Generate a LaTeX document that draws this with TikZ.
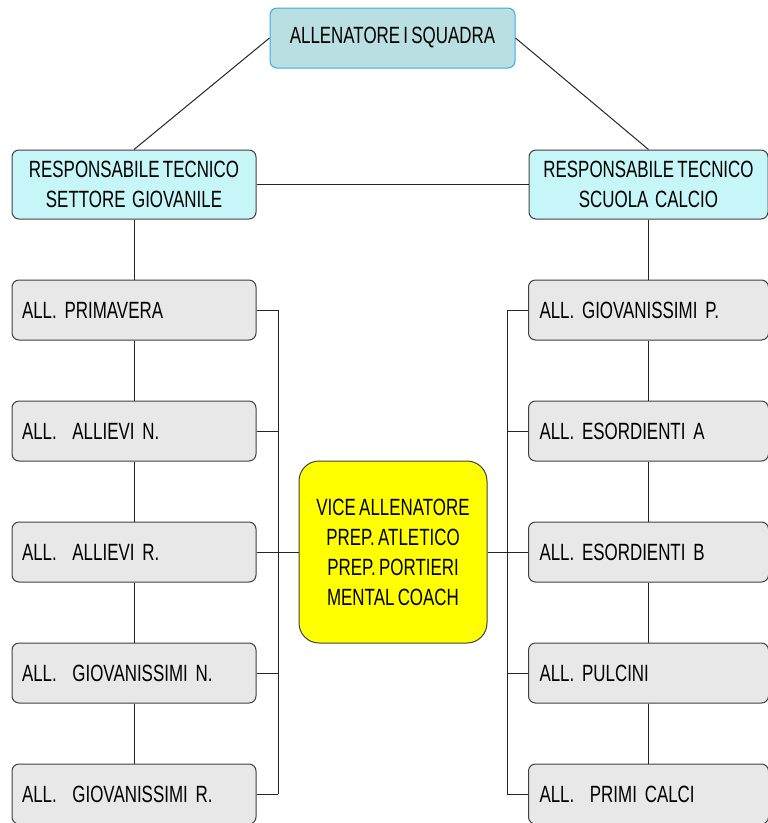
\documentclass[tikz,border=0pt]{standalone}
\usepackage{fontspec}
\setmainfont{Liberation Sans}[FakeStretch=0.72, WordSpace=0.7]
\definecolor{capofill}{RGB}{185,223,226}
\definecolor{capoline}{RGB}{59,169,234}
\definecolor{respfill}{RGB}{198,246,248}
\definecolor{allfill}{RGB}{232,232,232}
\definecolor{vicefill}{RGB}{255,255,0}
\tikzset{
	box/.style={rounded corners=7pt, line width=1pt, draw=black!75, inner sep=0pt, font=\fontsize{23.5}{30}\selectfont},
	capo/.style={box, draw=capoline, fill=capofill, minimum width=245pt, minimum height=60pt},
	resp/.style={box, fill=respfill, align=center, minimum height=69pt},
	allbox/.style={box, fill=allfill, align=left, minimum height=60pt, inner xsep=10pt},
	vice/.style={box, rounded corners=20pt, fill=vicefill, align=center, minimum width=188pt, minimum height=182pt},
	conn/.style={line width=1pt, draw=black!85}
}
\begin{document}
\begin{tikzpicture}[x=1pt, y=-1pt]
			%%%%% START %%%%%
			\useasboundingbox (0, 0) rectangle (768, 823);
			
			\node[capo] (capo) at (392.5, 38) {ALLENATORE I SQUADRA};
			
			\node[resp, minimum width=244pt] (lrt) at (134, 184.5) {RESPONSABILE TECNICO\\SETTORE\ \ GIOVANILE};
			\node[resp, minimum width=239pt] (rrt) at (648.5, 184.5) {RESPONSABILE TECNICO\\SCUOLA\ \ CALCIO};
			
			\node[allbox, text width=224pt] (l1) at (134, 310) {ALL. PRIMAVERA};
			\node[allbox, text width=224pt] (l2) at (134, 431) {ALL.\ \ ALLIEVI N.};
			\node[allbox, text width=224pt] (l3) at (134, 552) {ALL.\ \ ALLIEVI R.};
			\node[allbox, text width=224pt] (l4) at (134, 673) {ALL.\ \ GIOVANISSIMI N.};
			\node[allbox, text width=224pt] (l5) at (134, 794) {ALL.\ \ GIOVANISSIMI R.};
			
			\node[allbox, text width=218pt, inner xsep=11pt] (r1) at (648.5, 310) {ALL. GIOVANISSIMI P.};
			\node[allbox, text width=218pt, inner xsep=11pt] (r2) at (648.5, 431) {ALL. ESORDIENTI A};
			\node[allbox, text width=218pt, inner xsep=11pt] (r3) at (648.5, 552) {ALL. ESORDIENTI B};
			\node[allbox, text width=218pt, inner xsep=11pt] (r4) at (648.5, 673) {ALL. PULCINI};
			\node[allbox, text width=218pt, inner xsep=11pt] (r5) at (648.5, 794) {ALL.\ \ PRIMI CALCI};
			
			\node[vice] (vice) at (393, 552) {VICE ALLENATORE\\PREP. ATLETICO\\PREP. PORTIERI\\MENTAL COACH};
			
			\coordinate (lbar) at (278, 0);
			\coordinate (rbar) at (507, 0);
			
			% top
			\draw[conn] (capo.west) -- (lrt.north);
			\draw[conn] (capo.east) -- (rrt.north);
			\draw[conn] (lrt.east) -- (rrt.west);
			
			% left column
			\draw[conn] (lrt.south) -- (l1.north);
			\draw[conn] (l1.south) -- (l2.north);
			\draw[conn] (l2.south) -- (l3.north);
			\draw[conn] (l3.south) -- (l4.north);
			\draw[conn] (l4.south) -- (l5.north);
			
			% right column
			\draw[conn] (rrt.south) -- (r1.north);
			\draw[conn] (r1.south) -- (r2.north);
			\draw[conn] (r2.south) -- (r3.north);
			\draw[conn] (r3.south) -- (r4.north);
			\draw[conn] (r4.south) -- (r5.north);
			
			% left bracket
			\draw[conn] (l1.east -| lbar) -- (l5.east -| lbar);
			\draw[conn] (l1.east) -- (l1.east -| lbar);
			\draw[conn] (l2.east) -- (l2.east -| lbar);
			\draw[conn] (l3.east) -- (vice.west);
			\draw[conn] (l4.east) -- (l4.east -| lbar);
			\draw[conn] (l5.east) -- (l5.east -| lbar);
			
			% right bracket
			\draw[conn] (r1.west -| rbar) -- (r5.west -| rbar);
			\draw[conn] (r1.west) -- (r1.west -| rbar);
			\draw[conn] (r2.west) -- (r2.west -| rbar);
			\draw[conn] (r3.west) -- (vice.east);
			\draw[conn] (r4.west) -- (r4.west -| rbar);
			\draw[conn] (r5.west) -- (r5.west -| rbar);
			
			%%%%% END %%%%%
\end{tikzpicture}
\end{document}
